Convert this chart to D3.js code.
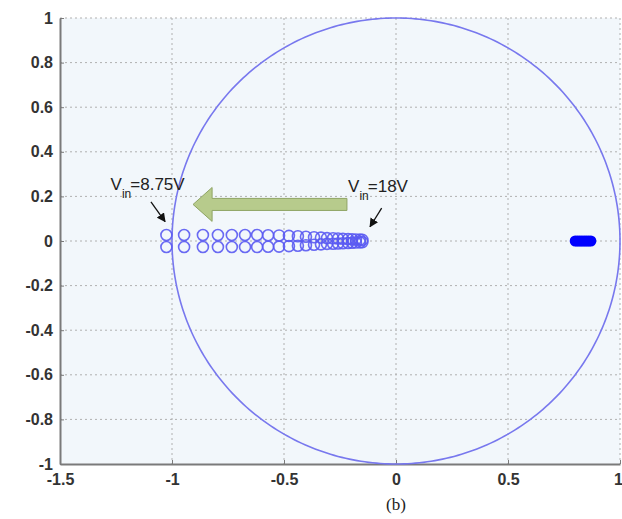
<!DOCTYPE html>
<html>
<head>
<meta charset="utf-8">
<script src="https://cdn.jsdelivr.net/npm/d3@7"></script>
<style>
  body { margin: 0; background: #fff; }
  svg text { font-family: "Liberation Sans", Arial, sans-serif; }
</style>
</head>
<body>
<div class="chart"></div>
<script>
const poleReal = [-1.025, -0.946, -0.862, -0.795, -0.733, -0.674, -0.620, -0.571, -0.522,
    -0.478, -0.438, -0.402, -0.366, -0.335, -0.308, -0.281, -0.259, -0.237, -0.214,
    -0.196, -0.179, -0.161, -0.150];
const poleImag = [0.027, 0.027, 0.027, 0.027, 0.027, 0.027, 0.027, 0.026, 0.025,
    0.023, 0.021, 0.019, 0.017, 0.015, 0.013, 0.012, 0.011, 0.010, 0.009,
    0.008, 0.007, 0.006, 0.005];
// zeros cluster on the right
const zeroReal = [0.80, 0.81, 0.82, 0.83, 0.84, 0.85, 0.86, 0.87];
const zeroImag = [0, 0, 0, 0, 0, 0, 0, 0];

const xTicks = [-1.5, -1, -0.5, 0, 0.5, 1];
const yTicks = [-1, -0.8, -0.6, -0.4, -0.2, 0, 0.2, 0.4, 0.6, 0.8, 1];
const xTickLabels = ["-1.5", "-1", "-0.5", "0", "0.5", "1"];
const yTickLabels = ["-1", "-0.8", "-0.6", "-0.4", "-0.2", "0", "0.2", "0.4", "0.6", "0.8", "1"];

// annotation labels
const labelLow = { main: "V", sub: "in", rest: "=8.75V" };
const labelHigh = { main: "V", sub: "in", rest: "=18V" };

const makePoleZeroPlot = (cls) => {
    const svgWidth = 622, svgHeight = 519;
    const margin = { top: 18, right: 2, bottom: 55, left: 60 };
    const width = svgWidth - margin.left - margin.right;
    const height = svgHeight - margin.top - margin.bottom;

    const svg = d3.select(`.${cls}`).append("svg")
        .attr("width", svgWidth)
        .attr("height", svgHeight);

    const g = svg.append("g")
        .attr("transform", `translate(${margin.left},${margin.top})`);

    const x = d3.scaleLinear().domain([-1.5, 1]).range([0, width]);
    const y = d3.scaleLinear().domain([-1, 1]).range([height, 0]);

    // plot background
    g.append("rect")
        .attr("width", width)
        .attr("height", height)
        .attr("fill", "#f2f7fb");

    // dotted grid
    g.selectAll(".gx").data(xTicks.slice(1)).enter().append("line")
        .attr("x1", d => x(d)).attr("x2", d => x(d))
        .attr("y1", 0).attr("y2", height)
        .attr("stroke", "#b0b0b0").attr("stroke-dasharray", "2,3");
    g.selectAll(".gy").data(yTicks.slice(1)).enter().append("line")
        .attr("x1", 0).attr("x2", width)
        .attr("y1", d => y(d)).attr("y2", d => y(d))
        .attr("stroke", "#b0b0b0").attr("stroke-dasharray", "2,3");

    // axes
    const xAxis = g.append("g")
        .attr("class", "x-axis")
        .attr("transform", `translate(0,${height})`)
        .call(d3.axisBottom(x).tickValues(xTicks).tickFormat((d, i) => xTickLabels[i])
            .tickSizeInner(-4).tickSizeOuter(0).tickPadding(10));
    const yAxis = g.append("g")
        .attr("class", "y-axis")
        .call(d3.axisLeft(y).tickValues(yTicks).tickFormat((d, i) => yTickLabels[i])
            .tickSizeInner(-4).tickSizeOuter(0).tickPadding(7));

    [xAxis, yAxis].forEach(a => {
        a.select(".domain").attr("stroke", "#7a7a7a").attr("stroke-width", 2);
        a.selectAll(".tick line").attr("stroke", "#7a7a7a");
        a.selectAll("text")
            .style("font-size", "16px")
            .style("font-weight", "bold")
            .attr("fill", "#333");
    });
    // keep the last x label inside the picture
    xAxis.selectAll(".tick text").filter(d => d === 1).attr("dx", -2);

    // unit circle
    const circlePts = d3.range(0, 361).map(a => [Math.cos(a * Math.PI / 180), Math.sin(a * Math.PI / 180)]);
    g.append("path")
        .datum(circlePts)
        .attr("d", d3.line().x(d => x(d[0])).y(d => y(d[1])))
        .attr("fill", "none")
        .attr("stroke", "#7878ee")
        .attr("stroke-width", 1.6);

    // poles as open rings (conjugate pairs)
    const poles = [];
    poleReal.forEach((r, i) => {
        poles.push({ re: r, im: poleImag[i] });
        poles.push({ re: r, im: -poleImag[i] });
    });
    g.selectAll(".pole").data(poles).enter().append("circle")
        .attr("cx", d => x(d.re))
        .attr("cy", d => y(d.im))
        .attr("r", 5.5)
        .attr("fill", "none")
        .attr("stroke", "#5a5af2")
        .attr("stroke-opacity", 0.9)
        .attr("stroke-width", 1.6);

    // zero cluster (filled)
    g.selectAll(".zero").data(zeroReal.map((r, i) => ({ re: r, im: zeroImag[i] }))).enter().append("circle")
        .attr("cx", d => x(d.re))
        .attr("cy", d => y(d.im))
        .attr("r", 5.5)
        .attr("fill", "#0000ff");

    // big green arrow (Vin decreasing)
    const tailX = -0.219, tipX = -0.906, headX = -0.821, midY = 0.164;
    const bodyH = 0.027, headH = 0.076;
    const arrowPts = [
        [tailX, midY + bodyH], [headX, midY + bodyH], [headX, midY + headH], [tipX, midY],
        [headX, midY - headH], [headX, midY - bodyH], [tailX, midY - bodyH]
    ];
    g.append("path")
        .attr("d", d3.line().x(d => x(d[0])).y(d => y(d[1]))(arrowPts) + "Z")
        .attr("fill", "#b7cb8c")
        .attr("stroke", "#8fa464")
        .attr("stroke-width", 1);

    // small black arrows
    svg.append("defs").append("marker")
        .attr("id", "ah")
        .attr("viewBox", "0 0 10 10")
        .attr("refX", 9).attr("refY", 5)
        .attr("markerWidth", 9).attr("markerHeight", 9)
        .attr("markerUnits", "userSpaceOnUse")
        .attr("orient", "auto")
        .append("path").attr("d", "M0,0L10,5L0,10Z").attr("fill", "#111");

    const arrows = [
        { x1: -1.094, y1: 0.176, x2: -1.031, y2: 0.087 },
        { x1: -0.064, y1: 0.147, x2: -0.116, y2: 0.064 }
    ];
    g.selectAll(".sarrow").data(arrows).enter().append("line")
        .attr("x1", d => x(d.x1)).attr("y1", d => y(d.y1))
        .attr("x2", d => x(d.x2)).attr("y2", d => y(d.y2))
        .attr("stroke", "#111").attr("stroke-width", 1.3)
        .attr("marker-end", "url(#ah)");

    // V_in labels
    const addLabel = (lbl, px, py) => {
        const t = g.append("text")
            .attr("x", x(px)).attr("y", y(py))
            .style("font-size", "17px")
            .attr("fill", "#222");
        t.append("tspan").text(lbl.main);
        t.append("tspan").attr("dy", 8).style("font-size", "12px").text(lbl.sub);
        t.append("tspan").attr("dy", -8).attr("dx", -1).text(lbl.rest);
    };
    addLabel(labelLow, -1.274, 0.229);
    addLabel(labelHigh, -0.214, 0.220);

    // caption
    svg.append("text")
        .attr("x", margin.left + x(0))
        .attr("y", 510)
        .attr("text-anchor", "middle")
        .style("font-family", "'Liberation Serif', 'Times New Roman', serif")
        .style("font-size", "17px")
        .attr("fill", "#222")
        .text("(b)");
};

window.addEventListener("DOMContentLoaded", () => {
    makePoleZeroPlot("chart");
});
</script>
</body>
</html>
